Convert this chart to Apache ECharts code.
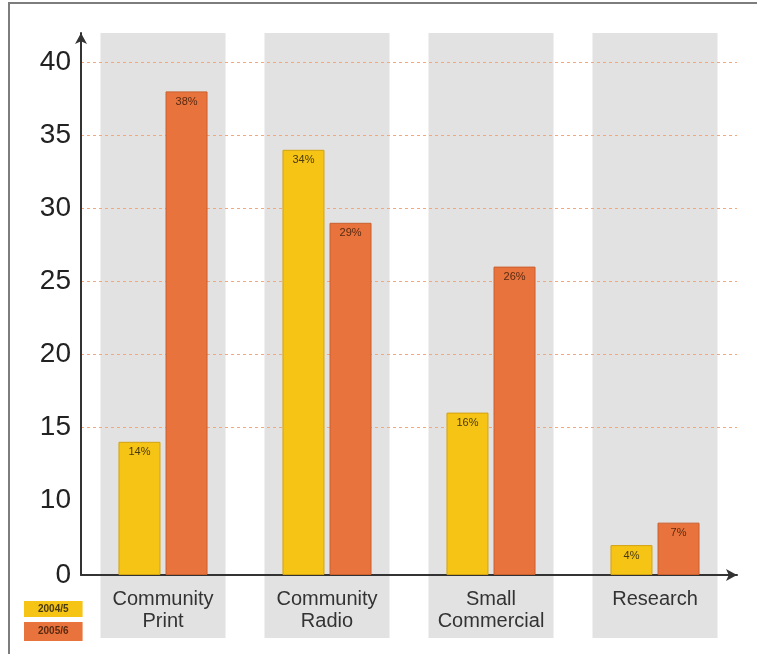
<!DOCTYPE html>
<html>
<head>
<meta charset="utf-8">
<script src="https://cdn.jsdelivr.net/npm/echarts@6/dist/echarts.min.js"></script>
<style>
html,body{margin:0;padding:0;background:#fff;}
#c{width:757px;height:654px;}
</style>
</head>
<body>
<div id="c"></div>
<script>
const categories = ['Community\nPrint', 'Community\nRadio', 'Small\nCommercial', 'Research'];
const seriesNames = ['2004/5', '2005/6'];
const values2004 = [14, 34, 16, 4];
const values2005 = [38, 29, 26, 7];
const bandValues = [1, 1, 1, 1];
const yTicks = [0, 10, 15, 20, 25, 30, 35, 40];

const FONT = '"Liberation Sans", Arial, Helvetica, sans-serif';
const YELLOW = '#f5c415';
const ORANGE = '#e9733d';

const chart = echarts.init(document.getElementById('c'), null, {renderer: 'canvas'});
const option = {
  backgroundColor: '#ffffff',
  animation: false,
  textStyle: {fontFamily: FONT},
  graphic: [{
    type: 'rect', silent: true, z: 100,
    shape: {x: 9, y: 3, width: 900, height: 800},
    style: {fill: 'none', stroke: '#7d7d7d', lineWidth: 2}
  }],
  legend: {
    orient: 'vertical', left: 13, top: 596, itemGap: 5,
    itemWidth: 0, itemHeight: 0, icon: 'rect', selectedMode: false,
    data: [
      {name: seriesNames[0], textStyle: {backgroundColor: YELLOW, padding: [3, 14, 2, 14], lineHeight: 11, fontWeight: 'bold', fontSize: 10, color: '#4a3a10', fontFamily: FONT}},
      {name: seriesNames[1], textStyle: {backgroundColor: ORANGE, padding: [4, 14, 4, 14], lineHeight: 11, fontWeight: 'bold', fontSize: 10, color: '#5a2a10', fontFamily: FONT}}
    ]
  },
  grid: [
    {left: 81, right: 20, top: 33, bottom: 79},
    {left: 81, right: 20, top: 33, bottom: 16}
  ],
  xAxis: [
    {
      type: 'category', gridIndex: 0, data: categories,
      axisLine: {show: true, symbol: ['none', 'arrow'], symbolSize: [9, 11], lineStyle: {color: '#333', width: 2}},
      axisTick: {show: false},
      axisLabel: {margin: 13, fontSize: 20, lineHeight: 22, color: '#333', fontFamily: FONT}
    },
    {
      type: 'category', gridIndex: 1, data: categories, show: false
    }
  ],
  yAxis: [
    {
      type: 'value', gridIndex: 0, min: 0, max: 42, interval: 5,
      breaks: [{start: 0, end: 10, gap: '13.8%'}],
      breakArea: {show: false, itemStyle: {color: 'rgba(0,0,0,0)', borderColor: 'rgba(0,0,0,0)', opacity: 0}, zigzagAmplitude: 0},
      axisLine: {show: false},
      axisTick: {show: false},
      axisLabel: {
        margin: 10, fontSize: 28, color: '#222', fontFamily: FONT,
        formatter: function (v) { return yTicks.indexOf(v) >= 0 ? String(v) : ''; }
      },
      splitLine: {show: true, showMinLine: false, showMaxLine: false, lineStyle: {color: '#f3a77a', type: [3, 3], width: 1}}
    },
    {
      type: 'value', gridIndex: 1, min: 0, max: 1, show: false, splitLine: {show: false}
    },
    {
      type: 'value', gridIndex: 0, min: 0, max: 42, position: 'left',
      axisLine: {show: true, onZero: false, symbol: ['none', 'arrow'], symbolSize: [9, 11], lineStyle: {color: '#333', width: 2}},
      axisTick: {show: false}, axisLabel: {show: false}, splitLine: {show: false}
    }
  ],
  series: [
    {
      type: 'bar', name: 'band', xAxisIndex: 1, yAxisIndex: 1, data: bandValues,
      barWidth: 125, silent: true, z: -1,
      itemStyle: {color: '#e2e2e2'}, legendHoverLink: false
    },
    {
      type: 'bar', name: seriesNames[0], xAxisIndex: 0, yAxisIndex: 0, data: values2004,
      barWidth: 42, barGap: '12%',
      itemStyle: {color: YELLOW, borderColor: '#d3a20f', borderWidth: 1},
      label: {show: true, position: 'insideTop', distance: 5, formatter: '{c}%', fontSize: 11, color: '#4a3a10', fontFamily: FONT}
    },
    {
      type: 'bar', name: seriesNames[1], xAxisIndex: 0, yAxisIndex: 0, data: values2005,
      barWidth: 42, barGap: '12%',
      itemStyle: {color: ORANGE, borderColor: '#c9602f', borderWidth: 1},
      label: {show: true, position: 'insideTop', distance: 5, formatter: '{c}%', fontSize: 11, color: '#5a2a10', fontFamily: FONT}
    }
  ]
};
chart.setOption(option);
</script>
</body>
</html>
